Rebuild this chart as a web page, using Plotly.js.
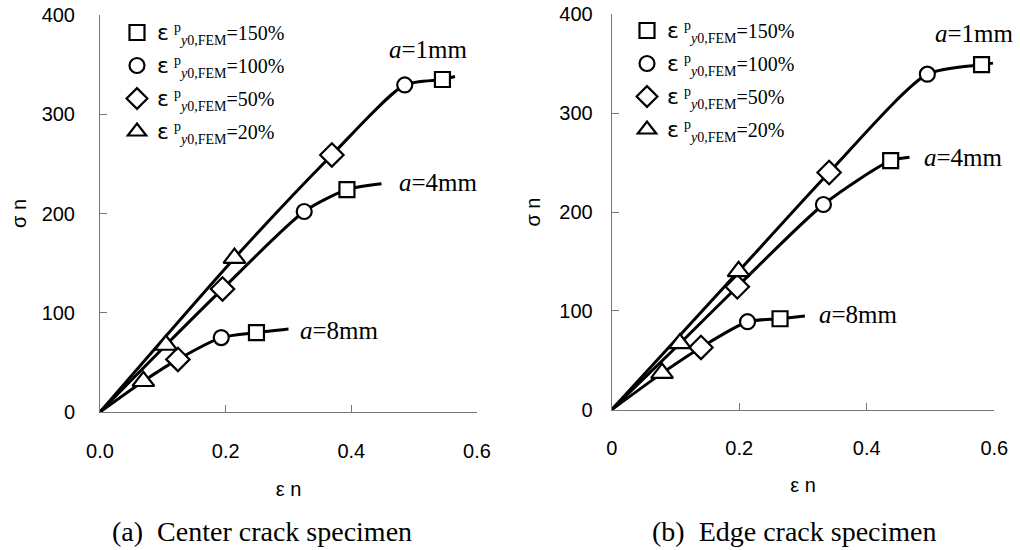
<!DOCTYPE html>
<html>
<head>
<meta charset="utf-8">
<script src="https://cdn.plot.ly/plotly-3.0.1.min.js"></script>
<style>
html,body{margin:0;padding:0;background:#fff;}
#chart{width:1020px;height:550px;}
</style>
</head>
<body>
<div id="chart"></div>
<script>
// Index order in each curve: origin, 20%, 50%, 100%, 150%, end of curve
const levels = ['150%', '100%', '50%', '20%'];
const levelIndex = [4, 3, 2, 1];
const levelSymbols = ['square', 'circle', 'diamond', 'triangle-up'];

// (a) Center crack specimen
const centerA1X = [0, 0.214, 0.369, 0.485, 0.545, 0.565];
const centerA1Y = [0, 155, 259, 329.5, 335, 338];
const centerA4X = [0, 0.105, 0.195, 0.325, 0.393, 0.448];
const centerA4Y = [0, 67.5, 124, 202, 224, 230];
const centerA8X = [0, 0.069, 0.124, 0.193, 0.249, 0.300];
const centerA8Y = [0, 31, 53, 75, 80, 83.6];

// (b) Edge crack specimen
const edgeA1X = [0, 0.199, 0.341, 0.495, 0.580, 0.598];
const edgeA1Y = [0, 140, 240, 339.4, 349, 350.6];
const edgeA4X = [0, 0.107, 0.197, 0.332, 0.4375, 0.467];
const edgeA4Y = [0, 67, 124.4, 207.6, 252, 255.4];
const edgeA8X = [0, 0.079, 0.140, 0.213, 0.264, 0.303];
const edgeA8Y = [0, 37, 63, 89, 92, 94.7];

const crackLabels = ['<i>a</i>=1mm', '<i>a</i>=4mm', '<i>a</i>=8mm'];
const yTicks = [0, 100, 200, 300, 400];
const xTicks = [0, 0.2, 0.4, 0.6];
const xTickTextA = ['0.0', '0.2', '0.4', '0.6'];
const xTickTextB = ['0', '0.2', '0.4', '0.6'];

const serif = 'Liberation Serif, Times New Roman, serif';
const sans = 'Liberation Sans, Arial, sans-serif';

const panels = [
  {curves: [[centerA1X, centerA1Y], [centerA4X, centerA4Y], [centerA8X, centerA8Y]], xa: 'x', ya: 'y', legend: 'legend'},
  {curves: [[edgeA1X, edgeA1Y], [edgeA4X, edgeA4Y], [edgeA8X, edgeA8Y]], xa: 'x2', ya: 'y2', legend: 'legend2'}
];

const markerSizes = [15, 15, 18, 19];

const traces = [];
panels.forEach(p => {
  p.curves.forEach(c => {
    traces.push({
      x: c[0], y: c[1], xaxis: p.xa, yaxis: p.ya, type: 'scatter', mode: 'lines',
      line: {color: '#000', width: 3, shape: 'spline', smoothing: 0.7},
      showlegend: false, hoverinfo: 'skip'
    });
  });
});
panels.forEach(p => {
  levels.forEach((lv, i) => {
    const k = levelIndex[i];
    traces.push({
      x: p.curves.map(c => c[0][k]), y: p.curves.map(c => c[1][k]),
      xaxis: p.xa, yaxis: p.ya, type: 'scatter', mode: 'markers',
      name: '<span style="font-family:DejaVu Sans;font-size:22px">ε</span> <sup>p</sup><sub><i>y</i>0,FEM</sub>=' + lv,
      legend: p.legend, legendgroup: p.legend + lv,
      marker: {symbol: levelSymbols[i], color: '#fff', size: markerSizes[i],
               line: {width: 2.2, color: '#000'}},
      cliponaxis: false
    });
  });
});

const axisCommon = {
  showgrid: false, zeroline: false, showline: true, linecolor: '#777', linewidth: 1,
  ticks: 'inside', ticklen: 7, tickcolor: '#777', tickwidth: 1,
  tickfont: {family: sans, size: 20, color: '#000'}, fixedrange: true
};

const legendCommon = {
  font: {family: serif, size: 20, color: '#000'}, bgcolor: 'rgba(0,0,0,0)',
  xanchor: 'left', yanchor: 'top', tracegroupgap: 4, itemwidth: 30
};

const titleFont = {family: sans, size: 20, color: '#000'};

const layout = {
  width: 1020, height: 550, margin: {l: 0, r: 0, t: 0, b: 0},
  paper_bgcolor: '#fff', plot_bgcolor: '#fff',
  xaxis: Object.assign({}, axisCommon, {domain: [100/1020, 477/1020], range: [0, 0.6], tickvals: xTicks, ticktext: xTickTextA,
    ticklabelstandoff: 21, anchor: 'y',
    title: {text: 'ε n', font: titleFont, standoff: 20}}),
  yaxis: Object.assign({}, axisCommon, {domain: [(550-412)/550, (550-15)/550], range: [0, 400], tickvals: yTicks,
    ticklabelstandoff: 20, anchor: 'x',
    title: {text: 'σ n', font: titleFont, standoff: 9}}),
  xaxis2: Object.assign({}, axisCommon, {domain: [611.7/1020, 994.3/1020], range: [0, 0.6], tickvals: xTicks, ticktext: xTickTextB,
    ticklabelstandoff: 20, anchor: 'y2',
    title: {text: 'ε n', font: titleFont, standoff: 20}}),
  yaxis2: Object.assign({}, axisCommon, {domain: [(550-409.7)/550, (550-14.3)/550], range: [0, 400], tickvals: yTicks,
    ticklabelstandoff: 14, anchor: 'x2',
    title: {text: 'σ n', font: titleFont, standoff: 13}}),
  legend: Object.assign({}, legendCommon, {x: 117/1020, y: (550-13)/550}),
  legend2: Object.assign({}, legendCommon, {x: 627/1020, y: (550-11)/550}),
  annotations: [
    {xref: 'x', yref: 'y', x: 0.457, y: 365, text: crackLabels[0], showarrow: false, xanchor: 'left', yanchor: 'middle', font: {family: serif, size: 25, color: '#000'}},
    {xref: 'x', yref: 'y', x: 0.473, y: 231, text: crackLabels[1], showarrow: false, xanchor: 'left', yanchor: 'middle', font: {family: serif, size: 25, color: '#000'}},
    {xref: 'x', yref: 'y', x: 0.315, y: 82, text: crackLabels[2], showarrow: false, xanchor: 'left', yanchor: 'middle', font: {family: serif, size: 25, color: '#000'}},
    {xref: 'x2', yref: 'y2', x: 0.504, y: 381, text: crackLabels[0], showarrow: false, xanchor: 'left', yanchor: 'middle', font: {family: serif, size: 25, color: '#000'}},
    {xref: 'x2', yref: 'y2', x: 0.486, y: 255, text: crackLabels[1], showarrow: false, xanchor: 'left', yanchor: 'middle', font: {family: serif, size: 25, color: '#000'}},
    {xref: 'x2', yref: 'y2', x: 0.3215, y: 96, text: crackLabels[2], showarrow: false, xanchor: 'left', yanchor: 'middle', font: {family: serif, size: 25, color: '#000'}},
    {xref: 'paper', yref: 'paper', x: 262/1020, y: (550-531)/550, text: '(a)&nbsp; Center crack specimen', showarrow: false, xanchor: 'center', yanchor: 'middle', font: {family: serif, size: 28, color: '#000'}},
    {xref: 'paper', yref: 'paper', x: 794/1020, y: (550-531)/550, text: '(b)&nbsp; Edge crack specimen', showarrow: false, xanchor: 'center', yanchor: 'middle', font: {family: serif, size: 28, color: '#000'}}
  ]
};

Plotly.newPlot('chart', traces, layout, {staticPlot: true});
</script>
</body>
</html>
